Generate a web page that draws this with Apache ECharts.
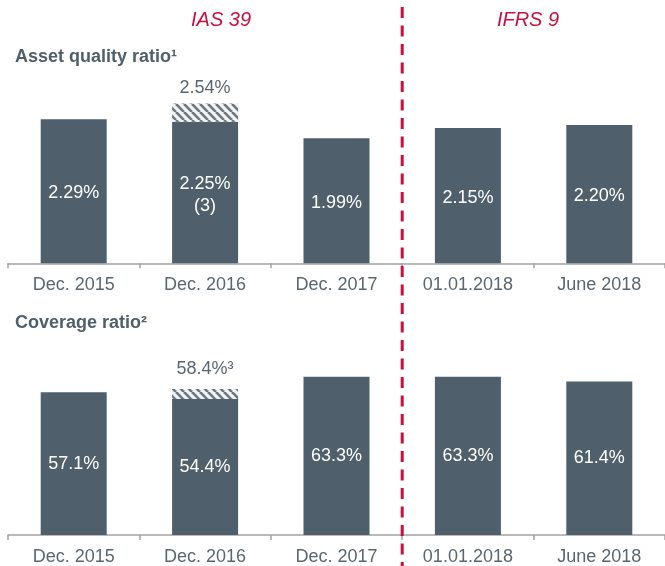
<!DOCTYPE html>
<html>
<head>
<meta charset="utf-8">
<script src="https://cdn.jsdelivr.net/npm/echarts@6/dist/echarts.min.js"></script>
<style>
  html, body { margin: 0; padding: 0; background: #fff; }
  #chart { width: 665px; height: 566px; }
</style>
</head>
<body>
<div id="chart"></div>
<script>
// Reporting dates
const categories = ['Dec. 2015', 'Dec. 2016', 'Dec. 2017', '01.01.2018', 'June 2018'];

// Asset quality ratio (%)
const assetQuality = [2.29, 2.25, 1.99, 2.15, 2.20];
const assetQualityAdjusted = [null, 2.54, null, null, null];
const assetQualityNotes = ['', '(3)', '', '', ''];

// Coverage ratio (%)
const coverage = [57.1, 54.4, 63.3, 63.3, 61.4];
const coverageAdjusted = [null, 58.4, null, null, null];
const coverageAdjustedNotes = ['', '³', '', '', ''];

const FONT = '"Liberation Sans", Arial, Helvetica, sans-serif';
const BAR = '#4f5f6b';
const GREY_TEXT = '#5b6770';
const CRIMSON = '#c8103f';
const AXIS = '#a3a3a3';

// diagonal hatch for the restated portion
function hatchPattern() {
  const c = document.createElement('canvas');
  c.width = 8; c.height = 8;
  const g = c.getContext('2d');
  g.fillStyle = '#f2f3f4';
  g.fillRect(0, 0, 8, 8);
  g.strokeStyle = '#6d7780';
  g.lineWidth = 2.6;
  for (const k of [-8, 0, 8]) {
    g.beginPath();
    g.moveTo(k, 0);
    g.lineTo(k + 8, 8);
    g.stroke();
  }
  return c;
}
const hatch = { image: hatchPattern(), repeat: 'repeat' };

const extra = (base, adj) => adj.map((v, i) => (v == null ? null : +(v - base[i]).toFixed(2)));

const xAxisCommon = {
  type: 'category',
  data: categories,
  boundaryGap: true,
  axisLine: { show: true, lineStyle: { color: AXIS, width: 1.5 } },
  axisTick: { show: true, length: 5, lineStyle: { color: AXIS, width: 1.5 } },
  axisLabel: { color: GREY_TEXT, fontSize: 18, fontFamily: FONT, margin: 13 }
};
const yAxisCommon = {
  type: 'value',
  min: 0,
  show: false,
  splitLine: { show: false }
};

const chart = echarts.init(document.getElementById('chart'), null, { renderer: 'canvas' });

chart.setOption({
  animation: false,
  grid: [
    { left: 8, width: 660, top: 74.6, height: 188.7 },
    { left: 8, width: 660, top: 335, height: 201.3 }
  ],
  xAxis: [
    Object.assign({ gridIndex: 0 }, xAxisCommon),
    Object.assign({ gridIndex: 1 }, xAxisCommon)
  ],
  yAxis: [
    Object.assign({ gridIndex: 0, max: 3 }, yAxisCommon),
    Object.assign({ gridIndex: 1, max: 80 }, yAxisCommon)
  ],
  series: [
    {
      type: 'bar', xAxisIndex: 0, yAxisIndex: 0, stack: 'aq',
      data: assetQuality, barWidth: 66,
      itemStyle: { color: BAR },
      label: {
        show: true, position: 'inside', color: '#fff', fontSize: 18, fontFamily: FONT, lineHeight: 22,
        offset: [0, 2],
        formatter: p => p.value.toFixed(2) + '%' + (assetQualityNotes[p.dataIndex] ? '\n' + assetQualityNotes[p.dataIndex] : '')
      }
    },
    {
      type: 'bar', xAxisIndex: 0, yAxisIndex: 0, stack: 'aq',
      data: extra(assetQuality, assetQualityAdjusted), barWidth: 66,
      itemStyle: { color: hatch },
      label: {
        show: true, position: 'top', distance: 7, color: GREY_TEXT, fontSize: 18, fontFamily: FONT,
        formatter: p => assetQualityAdjusted[p.dataIndex].toFixed(2) + '%'
      }
    },
    {
      type: 'bar', xAxisIndex: 1, yAxisIndex: 1, stack: 'cov',
      data: coverage, barWidth: 66,
      itemStyle: { color: BAR },
      label: {
        show: true, position: 'inside', color: '#fff', fontSize: 18, fontFamily: FONT,
        formatter: p => p.value.toFixed(1) + '%'
      }
    },
    {
      type: 'bar', xAxisIndex: 1, yAxisIndex: 1, stack: 'cov',
      data: extra(coverage, coverageAdjusted), barWidth: 66,
      itemStyle: { color: hatch },
      label: {
        show: true, position: 'top', distance: 11, color: GREY_TEXT, fontSize: 18, fontFamily: FONT,
        formatter: p => coverageAdjusted[p.dataIndex].toFixed(1) + '%' + coverageAdjustedNotes[p.dataIndex]
      }
    }
  ]
});

// regime divider between Dec. 2017 and 01.01.2018, plus headings
const xA = chart.convertToPixel({ xAxisIndex: 0 }, categories[2]);
const xB = chart.convertToPixel({ xAxisIndex: 0 }, categories[3]);
const divX = (xA + xB) / 2;

chart.setOption({
  graphic: [
    {
      type: 'line', silent: true,
      shape: { x1: divX, y1: 7, x2: divX, y2: 566 },
      style: { stroke: CRIMSON, lineWidth: 3, lineDash: [11, 7.5] },
      z: 10
    },
    {
      type: 'text', x: 221, y: 20,
      style: { text: 'IAS 39', fill: CRIMSON, font: 'italic 20px ' + FONT, textAlign: 'center', textVerticalAlign: 'middle' }
    },
    {
      type: 'text', x: 528, y: 20,
      style: { text: 'IFRS 9', fill: CRIMSON, font: 'italic 20px ' + FONT, textAlign: 'center', textVerticalAlign: 'middle' }
    },
    {
      type: 'text', x: 15, y: 57,
      style: { text: 'Asset quality ratio¹', fill: BAR, font: 'bold 18px ' + FONT, textAlign: 'left', textVerticalAlign: 'middle' }
    },
    {
      type: 'text', x: 15, y: 323,
      style: { text: 'Coverage ratio²', fill: BAR, font: 'bold 18px ' + FONT, textAlign: 'left', textVerticalAlign: 'middle' }
    }
  ]
});
</script>
</body>
</html>
